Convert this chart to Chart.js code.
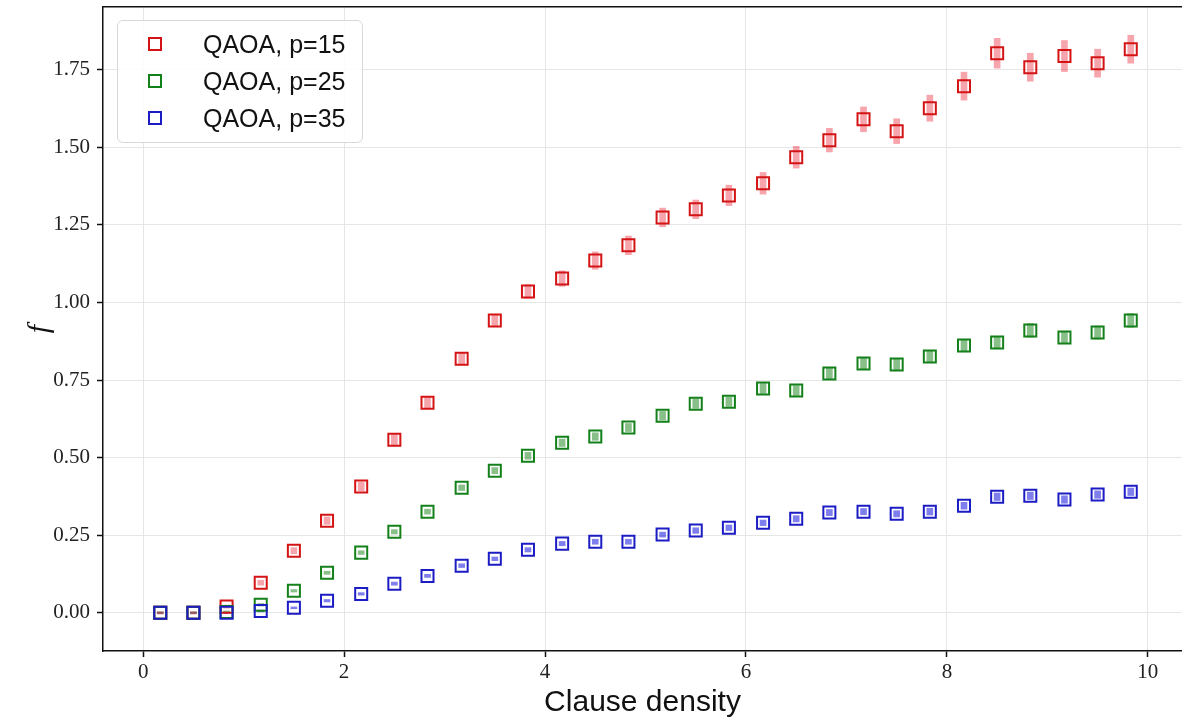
<!DOCTYPE html>
<html>
<head>
<meta charset="utf-8">
<script src="https://cdn.jsdelivr.net/npm/chart.js@4/dist/chart.umd.min.js"></script>
<style>
  body { margin: 0; background: #fff; overflow: hidden; }
  #wrap { position: relative; width: 1182px; height: 724px; }
  #legend {
    position: absolute; left: 117px; top: 20px; width: 246px; height: 123px;
    box-sizing: border-box; border: 1px solid #d8d8d8; border-radius: 6px;
    background: rgba(255,255,255,0.85);
    font-family: "Liberation Sans", Arial, sans-serif; font-size: 25px; color: #111;
  }
  .item { position: absolute; left: 0; height: 30px; line-height: 30px; }
  .mark { position: absolute; left: 30px; top: 8px; width: 10px; height: 10px; border: 2px solid; }
  .lbl { position: absolute; left: 85px; top: 0; white-space: nowrap; }
</style>
</head>
<body>
<div id="wrap">
  <canvas id="chart"></canvas>
  <div id="legend"></div>
</div>
<script>
// clause density values
const density = [0.17, 0.5, 0.83, 1.17, 1.5, 1.83, 2.17, 2.5, 2.83, 3.17,
                 3.5, 3.83, 4.17, 4.5, 4.83, 5.17, 5.5, 5.83, 6.17, 6.5,
                 6.83, 7.17, 7.5, 7.83, 8.17, 8.5, 8.83, 9.17, 9.5, 9.83];

const p15 = [0.00, 0.00, 0.02, 0.097, 0.20, 0.297, 0.407, 0.558, 0.677, 0.819,
             0.942, 1.035, 1.077, 1.135, 1.184, 1.274, 1.30, 1.345, 1.384, 1.468,
             1.523, 1.59, 1.552, 1.626, 1.697, 1.803, 1.758, 1.794, 1.771, 1.816];
const p15err = [0.004, 0.004, 0.005, 0.008, 0.01, 0.012, 0.014, 0.016, 0.018, 0.02,
                0.02, 0.022, 0.025, 0.028, 0.03, 0.03, 0.03, 0.033, 0.035, 0.035,
                0.038, 0.04, 0.04, 0.042, 0.045, 0.048, 0.045, 0.05, 0.045, 0.045];

const p25 = [0.00, 0.00, 0.003, 0.026, 0.071, 0.129, 0.194, 0.261, 0.326, 0.403,
             0.458, 0.506, 0.548, 0.568, 0.597, 0.635, 0.674, 0.68, 0.723, 0.716,
             0.771, 0.803, 0.80, 0.826, 0.861, 0.871, 0.91, 0.887, 0.903, 0.942];
const p25err = [0.003, 0.003, 0.003, 0.004, 0.004, 0.005, 0.006, 0.007, 0.008, 0.009,
                0.01, 0.011, 0.012, 0.012, 0.013, 0.014, 0.015, 0.015, 0.016, 0.016,
                0.017, 0.018, 0.018, 0.019, 0.02, 0.02, 0.022, 0.02, 0.021, 0.022];

const p35 = [0.00, 0.00, 0.00, 0.006, 0.016, 0.039, 0.061, 0.094, 0.119, 0.152,
             0.174, 0.203, 0.223, 0.229, 0.229, 0.252, 0.265, 0.274, 0.29, 0.303,
             0.323, 0.326, 0.319, 0.326, 0.345, 0.374, 0.377, 0.365, 0.381, 0.39];
const p35err = [0.002, 0.002, 0.002, 0.003, 0.003, 0.004, 0.004, 0.005, 0.005, 0.006,
                0.006, 0.007, 0.007, 0.008, 0.008, 0.008, 0.009, 0.009, 0.009, 0.01,
                0.01, 0.01, 0.01, 0.011, 0.011, 0.012, 0.012, 0.012, 0.012, 0.012];

const seriesNames = ['QAOA, p=15', 'QAOA, p=25', 'QAOA, p=35'];
const xTicks = [0, 2, 4, 6, 8, 10];
const yTicks = [0, 0.25, 0.5, 0.75, 1.0, 1.25, 1.5, 1.75];

const edgeColors = ['#d41414', '#13801a', '#1c1cc4'];
const barColors = ['rgba(235,40,60,0.42)', 'rgba(20,130,20,0.5)', 'rgba(20,20,220,0.55)'];

const values = [p15, p25, p35];
const errors = [p15err, p25err, p35err];

const datasets = [];
values.forEach(function (vals, i) {
    datasets.push({
        type: 'scatter',
        label: seriesNames[i],
        data: vals.map(function (v, k) { return {x: density[k], y: v}; }),
        pointStyle: 'rect',
        pointRadius: 8.5,
        pointBorderWidth: 2,
        borderColor: edgeColors[i],
        backgroundColor: 'rgba(0,0,0,0)',
        order: 3 - i
    });
});
values.forEach(function (vals, i) {
    datasets.push({
        type: 'bar',
        label: seriesNames[i] + ' err',
        data: vals.map(function (v, k) { return {x: density[k], y: [v - errors[i][k], v + errors[i][k]]}; }),
        backgroundColor: barColors[i],
        borderWidth: 0,
        barThickness: 6,
        grouped: false,
        order: 10 + i
    });
});

const tickFont = {family: '"Liberation Serif", serif', size: 21};

// drop the extra room chart.js keeps for edge labels
function noEdgePadding(scale) {
    scale.paddingTop = 0;
    scale.paddingBottom = 0;
    scale.paddingLeft = 0;
    scale.paddingRight = 0;
}

const config = {
    data: {datasets: datasets},
    options: {
        responsive: true,
        maintainAspectRatio: false,
        animation: false,
        layout: {autoPadding: false, padding: {top: 7, right: 0, left: 0, bottom: 0}},
        plugins: {
            legend: {display: false},
            tooltip: {enabled: false}
        },
        scales: {
            x: {
                type: 'linear',
                position: 'bottom',
                min: -0.4,
                max: 10.34,
                offset: false,
                afterBuildTicks: function (scale) {
                    scale.ticks = xTicks.map(function (v) { return {value: v}; });
                },
                afterFit: function (scale) { scale.height = 73; noEdgePadding(scale); },
                ticks: {
                    color: '#222',
                    font: tickFont,
                    padding: 3,
                    maxRotation: 0,
                    callback: function (v) { return String(v); }
                },
                grid: {color: '#e6e6e6', lineWidth: 1, offset: false, tickLength: 6, tickColor: '#111', tickWidth: 1.5},
                border: {display: true, color: '#111', width: 1.5},
                title: {
                    display: true,
                    text: 'Clause density',
                    color: '#111',
                    font: {family: '"Liberation Sans", Arial, sans-serif', size: 30},
                    padding: {top: 0, bottom: 3}
                }
            },
            xTop: {
                type: 'linear',
                position: 'top',
                min: -0.4,
                max: 10.34,
                ticks: {display: false},
                grid: {display: false, drawTicks: false},
                border: {display: true, color: '#111', width: 1.5},
                afterFit: function (scale) { scale.height = 0; noEdgePadding(scale); }
            },
            y: {
                type: 'linear',
                min: -0.123,
                max: 1.952,
                afterBuildTicks: function (scale) {
                    scale.ticks = yTicks.map(function (v) { return {value: v}; });
                },
                afterFit: function (scale) { scale.width = 103; noEdgePadding(scale); },
                ticks: {
                    color: '#222',
                    font: tickFont,
                    padding: 7,
                    callback: function (v) { return v.toFixed(2); }
                },
                grid: {color: '#e6e6e6', lineWidth: 1, tickLength: 6, tickColor: '#111', tickWidth: 1.5},
                border: {display: true, color: '#111', width: 1.5},
                title: {
                    display: true,
                    text: 'f',
                    color: '#111',
                    font: {family: '"Liberation Serif", serif', size: 30, style: 'italic'},
                    padding: {top: 22, bottom: 0}
                }
            }
        }
    }
};

const chart = new Chart(document.getElementById('chart').getContext('2d'), config);

// legend drawn as html from the scatter datasets
const legendBox = document.getElementById('legend');
chart.data.datasets.filter(function (d) { return d.type === 'scatter'; }).forEach(function (d, i) {
    const item = document.createElement('div');
    item.className = 'item';
    item.style.top = (8 + i * 37) + 'px';
    item.style.width = '100%';
    const mark = document.createElement('div');
    mark.className = 'mark';
    mark.style.borderColor = d.borderColor;
    const lbl = document.createElement('div');
    lbl.className = 'lbl';
    lbl.textContent = d.label;
    item.appendChild(mark);
    item.appendChild(lbl);
    legendBox.appendChild(item);
});
</script>
</body>
</html>
